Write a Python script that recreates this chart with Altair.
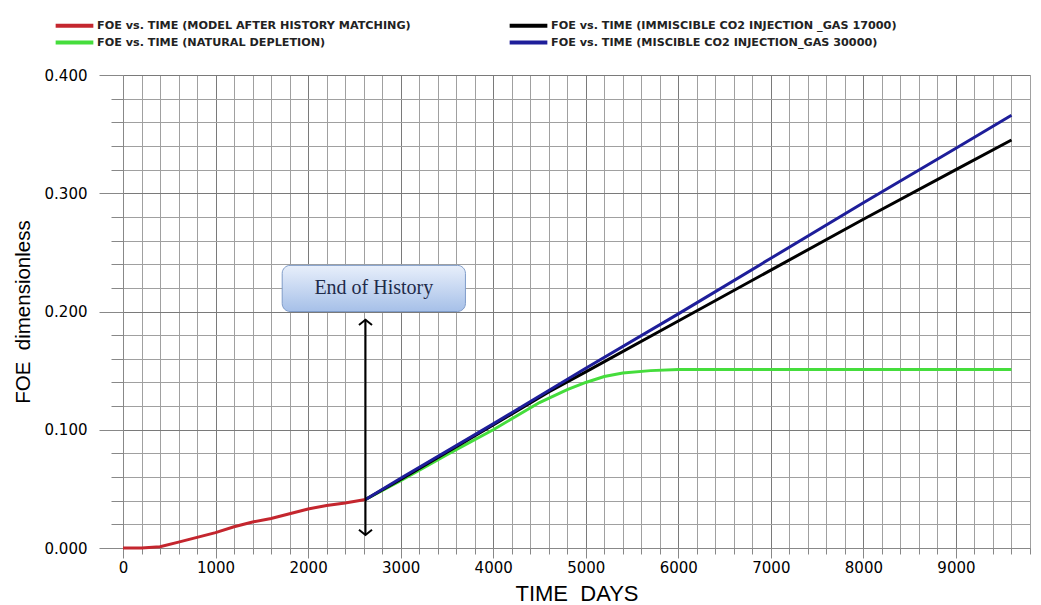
import altair as alt
import pandas as pd

# ---- data ----
series_names = [
    "FOE vs. TIME (MODEL AFTER HISTORY MATCHING)",
    "FOE vs. TIME (IMMISCIBLE CO2 INJECTION _GAS 17000)",
    "FOE vs. TIME (NATURAL DEPLETION)",
    "FOE vs. TIME (MISCIBLE CO2 INJECTION_GAS 30000)",
]
series_colors = ["#c4262e", "#000000", "#45dd3c", "#1e1e9a"]

red_days = [0, 200, 400, 600, 800, 1000, 1200, 1400, 1600, 1800, 2000, 2200, 2400, 2620]
red_foe = [0.000, 0.000, 0.001, 0.005, 0.009, 0.013, 0.018, 0.022, 0.025, 0.029, 0.033, 0.036, 0.038, 0.041]

black_days = [2620, 3000, 4000, 4600, 5000, 6000, 7000, 8000, 9000, 9600]
black_foe = [0.041, 0.058, 0.104, 0.132, 0.149, 0.192, 0.235, 0.278, 0.320, 0.345]

green_days = [2620, 3000, 3500, 4000, 4500, 4800, 5000, 5200, 5400, 5700, 6000, 7000, 8000, 9000, 9600]
green_foe = [0.041, 0.057, 0.079, 0.100, 0.123, 0.134, 0.140, 0.145, 0.148, 0.150, 0.151, 0.151, 0.151, 0.151, 0.151]

blue_days = [2620, 3000, 4000, 5000, 6000, 7000, 8000, 9000, 9600]
blue_foe = [0.041, 0.059, 0.105, 0.152, 0.198, 0.245, 0.292, 0.338, 0.366]

x_tick_values = list(range(0, 9801, 200))
y_tick_values = [round(i * 0.02, 2) for i in range(0, 21)]

history_end_day = 2620
arrow_top, arrow_bottom = 0.193, 0.011
box_x = [1720, 3700]
box_y = [0.200, 0.239]
box_label = "End of History"

# ---- build tables ----
rows = []
for name, days, vals in [
    (series_names[2], green_days, green_foe),
    (series_names[1], black_days, black_foe),
    (series_names[3], blue_days, blue_foe),
    (series_names[0], red_days, red_foe),
]:
    for d, v in zip(days, vals):
        rows.append({"series": name, "days": d, "foe": v})
df = pd.DataFrame(rows)

x_scale = alt.Scale(domain=[0, 9800], nice=False, zero=False)
y_scale = alt.Scale(domain=[0, 0.4], nice=False)
color_scale = alt.Scale(domain=series_names, range=series_colors)

x_axis = alt.Axis(
    title="TIME\u00a0\u00a0DAYS",
    values=x_tick_values,
    tickCount=200,
    labelExpr="datum.value % 1000 === 0 ? format(datum.value, 'd') : ''",
    labelOverlap=False,
    labelFlush=False,
    tickSize={"condition": {"test": "datum.value % 1000 === 0", "value": 10}, "value": 6},
    gridColor={"condition": {"test": "datum.value % 1000 === 0", "value": "#7a7a7a"}, "value": "#a0a0a0"},
    labelPadding=2,
    labelFont="DejaVu Sans",
    labelFontSize=15,
    titleFont="Liberation Sans",
    titleFontSize=22,
    titleY=35,
    titleFontWeight="normal",
)
major_y = "abs(datum.value*10 - round(datum.value*10)) < 1e-6"
y_axis = alt.Axis(
    title="FOE\u00a0\u00a0dimensionless",
    values=y_tick_values,
    tickCount=200,
    labelExpr=f"{major_y} ? format(datum.value, '.3f') : ''",
    labelOverlap=False,
    labelFlush=False,
    tickSize={"condition": {"test": major_y, "value": 24}, "value": 12},
    gridColor={"condition": {"test": major_y, "value": "#7a7a7a"}, "value": "#a0a0a0"},
    labelPadding=12,
    labelFont="DejaVu Sans",
    labelFontSize=15,
    titleFont="Liberation Sans",
    titleFontSize=20.5,
    titleX=-90,
    titleFontWeight="normal",
)

base = alt.Chart(df)

def series_layer(name):
    return base.transform_filter(alt.datum.series == name).mark_line(strokeWidth=3).encode(
        x=alt.X("days:Q", scale=x_scale, axis=x_axis),
        y=alt.Y("foe:Q", scale=y_scale, axis=y_axis),
        color=alt.Color(
            "series:N",
            scale=color_scale,
            legend=alt.Legend(
                title=None,
                orient="none",
                legendX=-57,
                legendY=-58,
                columns=2,
                direction="horizontal",
                symbolType="M -2.9 0 L 2.9 0",
                symbolSize=169,
                symbolStrokeWidth=4,
                labelFont="DejaVu Sans",
                labelFontWeight="bold",
                labelFontSize=11.2,
                labelColor="#222222",
                labelLimit=500,
                labelOffset=14,
                columnPadding=90,
                rowPadding=0,
            ),
        ),
    )

lines = [series_layer(series_names[i]) for i in [2, 1, 3, 0]]

box_df = pd.DataFrame({"x": [box_x[0]], "x2": [box_x[1]], "y": [box_y[0]], "y2": [box_y[1]],
                       "xm": [(box_x[0] + box_x[1]) / 2], "ym": [(box_y[0] + box_y[1]) / 2],
                       "label": [box_label]})
box = alt.Chart(box_df).mark_rect(
    cornerRadius=8,
    stroke="#7f9cc9",
    strokeWidth=1,
    fill=alt.Gradient(
        gradient="linear",
        stops=[alt.GradientStop(color="#e8effb", offset=0), alt.GradientStop(color="#a6c0e8", offset=1)],
        x1=0, x2=0, y1=0, y2=1,
    ),
).encode(x=alt.X("x:Q", scale=x_scale), x2="x2:Q", y=alt.Y("y:Q", scale=y_scale), y2="y2:Q")
box_text = alt.Chart(box_df).mark_text(
    font="Liberation Serif", fontSize=20, color="#1f2b4a"
).encode(x=alt.X("xm:Q", scale=x_scale), y=alt.Y("ym:Q", scale=y_scale), text="label:N")

arrow_df = pd.DataFrame({"x": [history_end_day], "y": [arrow_bottom], "y2": [arrow_top]})
arrow = alt.Chart(arrow_df).mark_rule(color="black", strokeWidth=2).encode(
    x=alt.X("x:Q", scale=x_scale), y=alt.Y("y:Q", scale=y_scale), y2="y2:Q")
head_top = alt.Chart(arrow_df).mark_point(
    shape="M -1 0.8 L 0 0 L 1 0.8", filled=False, color="black", strokeWidth=2, size=170, opacity=1
).encode(x=alt.X("x:Q", scale=x_scale), y=alt.Y("y2:Q", scale=y_scale))
head_bot = alt.Chart(arrow_df).mark_point(
    shape="M -1 -0.8 L 0 0 L 1 -0.8", filled=False, color="black", strokeWidth=2, size=170, opacity=1
).encode(x=alt.X("x:Q", scale=x_scale), y=alt.Y("y:Q", scale=y_scale))

chart = alt.layer(*lines, box, box_text, arrow, head_top, head_bot).properties(
    width=907,
    height=473,
    autosize=alt.AutoSizeParams(type="none"),
    padding={"left": 123, "top": 75, "right": 11, "bottom": 57},
).configure_view(stroke=None).configure_axis(
    domainColor="black",
    domainWidth=2,
    tickColor="black",
    tickWidth=1.5,
    gridWidth=1,
    gridOpacity=1,
    labelColor="#333333",
    titleColor="#333333",
).configure(background="white")

chart.save("out.html", embed_options={"renderer": "svg", "actions": False})
